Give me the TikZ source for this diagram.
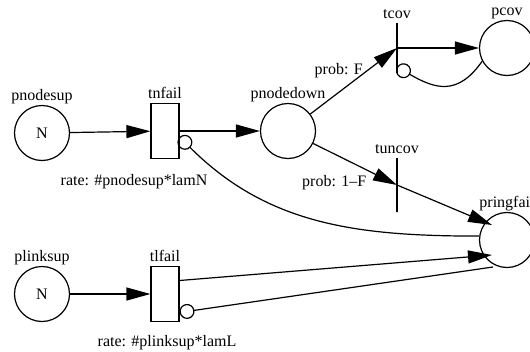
\documentclass[tikz,border=0pt]{standalone}
\usepackage{fontspec}
\setmainfont{Liberation Serif}
\usetikzlibrary{arrows.meta}

\begin{document}
\begin{tikzpicture}[x=1pt, y=1pt,
    font=\fontsize{16}{19}\selectfont,
    line width=1.2pt,
    every label/.append style={inner sep=1.5pt, text depth=0.22em},
    place/.style={circle, draw, minimum size=55pt, inner sep=0pt},
    trans/.style={rectangle, draw, minimum width=28pt, minimum height=55pt, inner sep=0pt},
    tbar/.style={rectangle, draw, minimum width=0pt, minimum height=#1, inner sep=0pt},
    normarc/.style={-{Triangle[length=24pt, width=13pt]}},
    inharc/.style={-{Circle[open, length=15pt]}}]

    \useasboundingbox (0,-351) rectangle (530,0);

    % places
    \node[place, label=above:pnodesup] at (42,-133) (pnodesup) {N};
    \node[place, label=above:pnodedown] at (288,-131) (pnodedown) {};
    \node[place, label=above:pcov] at (507,-48) (pcov) {};
    \node[place, label=above:pringfail] at (507,-240) (pringfail) {};
    \node[place, label=above:plinksup] at (42,-294) (plinksup) {N};

    % timed transitions
    \node[trans, label=above:tnfail,
          label={[xshift=-31pt, label distance=13pt]below:{rate: \#pnodesup*lamN}}]
          at (165,-131) (tnfail) {};
    \node[trans, label=above:tlfail,
          label={[xshift=2pt, label distance=11.5pt]below:{rate: \#plinksup*lamL}}]
          at (165,-294) (tlfail) {};

    % immediate transitions
    \node[tbar=50pt, label=above:tcov] at (397,-48) (tcov) {};
    \node[tbar=54pt, label=above:tuncov] at (397,-185) (tuncov) {};

    \draw[normarc] (pnodesup) -- (tnfail);
    \draw[normarc] (tnfail) -- (pnodedown);
    \draw[normarc] (plinksup) -- (tlfail);
    \draw[normarc] (pnodedown) -- node[pos=0.65, left] {prob: F} (tcov.center);
    \draw[normarc] (pnodedown) -- node[pos=0.68, below left] {prob: 1--F} (tuncov.center);
    \draw[normarc] (tcov.center) -- (pcov);
    \draw[normarc] (tuncov.center) -- ([shift={(-15,15)}]pringfail.center);
    \draw[normarc] ([yshift=13.5pt]tlfail.east) -- ([shift={(-15,-15)}]pringfail.center);

    % inhibitor arcs
    \draw[inharc] (pcov.208) to[out=235, in=-30, looseness=1.3] ([yshift=-19pt]tcov.center);
    \draw[inharc] (pringfail.172) to[out=180, in=-45] ([yshift=-6pt]tnfail.east);
    \draw[inharc] ([shift={(-14,-27)}]pringfail.center) -- ([yshift=-18.5pt]tlfail.east);
\end{tikzpicture}
\end{document}
